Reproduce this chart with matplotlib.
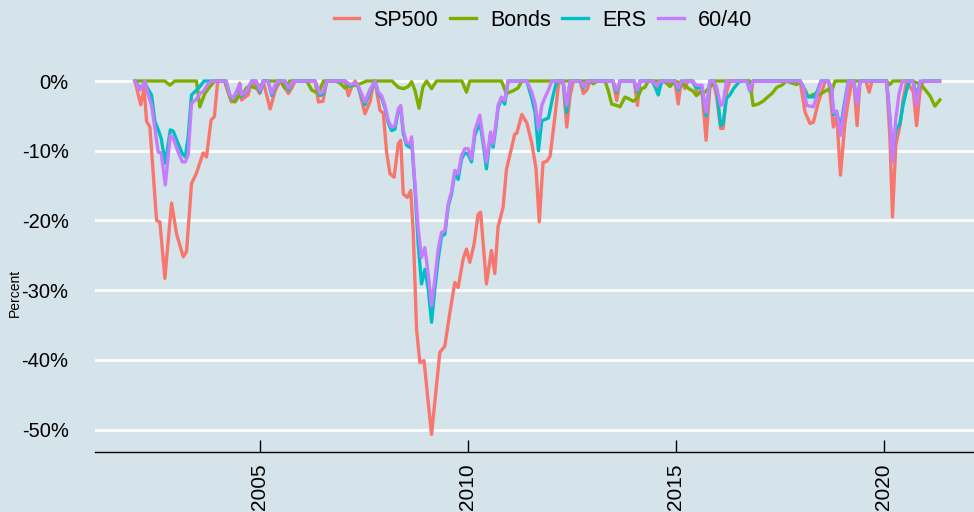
import numpy as np
import matplotlib
matplotlib.use("Agg")
import matplotlib.pyplot as plt
from matplotlib.ticker import FuncFormatter

plt.rcParams['font.family'] = ['Liberation Sans', 'DejaVu Sans']

# drawdowns in percent, x in decimal years (vertices)
sp_x = [2002.00, 2002.14, 2002.22, 2002.28, 2002.36, 2002.52, 2002.60, 2002.72, 2002.88, 2003.00,
        2003.16, 2003.24, 2003.36, 2003.48, 2003.64, 2003.72, 2003.83, 2003.91, 2003.99, 2004.16,
        2004.32, 2004.43, 2004.52, 2004.56, 2004.72, 2004.81, 2004.88, 2005.00, 2005.08, 2005.25,
        2005.37, 2005.49, 2005.69, 2005.77, 2005.85, 2006.33, 2006.41, 2006.52, 2006.61, 2007.05,
        2007.13, 2007.22, 2007.29, 2007.36, 2007.53, 2007.65, 2007.73, 2007.77, 2007.89, 2007.97,
        2008.05, 2008.13, 2008.23, 2008.33, 2008.39, 2008.45, 2008.55, 2008.63, 2008.69, 2008.77,
        2008.85, 2008.95, 2009.05, 2009.13, 2009.25, 2009.33, 2009.45, 2009.57, 2009.69, 2009.77,
        2009.89, 2009.97, 2010.05, 2010.15, 2010.25, 2010.31, 2010.45, 2010.57, 2010.65, 2010.73,
        2010.85, 2010.93, 2011.05, 2011.13, 2011.18, 2011.30, 2011.42, 2011.54, 2011.64, 2011.72,
        2011.81, 2011.90, 2011.98, 2012.10, 2012.18, 2012.22, 2012.29, 2012.38, 2012.46, 2012.54,
        2012.70, 2012.78, 2012.87, 2012.94, 2013.49, 2013.58, 2013.66, 2014.00, 2014.08, 2014.14,
        2014.43, 2014.50, 2014.58, 2014.67, 2014.86, 2014.98, 2015.06, 2015.13, 2015.22, 2015.29,
        2015.42, 2015.54, 2015.63, 2015.73, 2015.82, 2015.89, 2015.98, 2016.08, 2016.14, 2016.22,
        2016.30, 2016.76, 2016.82, 2016.86, 2017.99, 2018.11, 2018.23, 2018.31, 2018.43, 2018.51,
        2018.59, 2018.68, 2018.79, 2018.87, 2018.96, 2019.07, 2019.15, 2019.23, 2019.28, 2019.36,
        2019.43, 2019.57, 2019.65, 2019.72, 2020.07, 2020.15, 2020.21, 2020.29, 2020.39, 2020.47,
        2020.55, 2020.65, 2020.71, 2020.79, 2020.87, 2020.95, 2021.35]
sp_y = [0, -3.4, -1.0, -5.8, -6.6, -20.0, -20.2, -28.3, -17.5, -21.9,
        -25.2, -24.5, -14.7, -13.2, -10.3, -10.9, -5.6, -5.1, 0, 0,
        -3.0, -2.8, -0.3, -2.7, -2.0, 0, -0.6, -1.8, 0, -4.0,
        -1.4, 0, -1.8, -1.0, 0, 0, -3.0, -2.9, 0, 0,
        -2.1, -0.7, 0, -0.6, -4.7, -3.0, -0.4, 0, -4.2, -4.6,
        -10.2, -13.3, -13.8, -9.0, -8.5, -16.2, -16.7, -15.7, -21.7, -35.6,
        -40.4, -40.1, -46.1, -50.7, -43.7, -38.9, -38.0, -33.2, -28.9, -29.6,
        -25.5, -24.1, -26.0, -23.5, -19.1, -18.8, -29.1, -24.3, -27.6, -20.9,
        -18.1, -12.7, -9.7, -7.6, -7.5, -4.8, -6.0, -8.9, -12.5, -20.2,
        -11.7, -11.5, -10.8, -4.9, -0.6, 0, 0, -6.6, -2.1, 0,
        0, -1.8, -1.2, 0, 0, -2.8, 0, 0, -3.5, 0,
        0, -0.8, -1.3, 0, -0.5, 0, -3.3, 0, -1.1, 0,
        0, -1.9, -1.4, -8.5, -0.9, 0, -2.1, -6.8, -6.8, -1.6,
        0, 0, -1.6, 0, 0, -4.5, -6.1, -5.9, -3.0, -1.6,
        0, 0, -6.6, -4.9, -13.5, -5.9, -2.8, 0, 0, -6.4,
        0, 0, -1.6, 0, 0, -8.3, -19.5, -9.2, -6.4, -2.5,
        0, -1.0, -1.5, -6.4, -1.6, 0, 0]

bond_x = [2002.00, 2002.72, 2002.84, 2002.96, 2003.48, 2003.56, 2003.68, 2003.80, 2003.92, 2004.16,
          2004.28, 2004.40, 2004.48, 2004.60, 2004.68, 2004.77, 2004.89, 2005.01, 2005.09, 2005.51,
          2005.60, 2005.72, 2006.13, 2006.25, 2006.41, 2006.53, 2006.83, 2006.93, 2007.05, 2007.17,
          2007.33, 2007.57, 2008.18, 2008.33, 2008.45, 2008.57, 2008.65, 2008.73, 2008.83, 2008.92,
          2009.01, 2009.13, 2009.25, 2009.86, 2009.97, 2010.05, 2010.81, 2010.93, 2011.09, 2011.21,
          2011.30, 2012.94, 2013.02, 2013.11, 2013.30, 2013.38, 2013.46, 2013.58, 2013.66, 2013.78,
          2013.86, 2013.98, 2014.07, 2014.18, 2014.26, 2014.34, 2014.74, 2014.86, 2014.98, 2015.17,
          2015.34, 2015.41, 2015.50, 2015.58, 2015.70, 2015.82, 2015.94, 2016.78, 2016.86, 2016.98,
          2017.10, 2017.19, 2017.31, 2017.43, 2017.55, 2017.66, 2017.79, 2017.91, 2017.99, 2018.11,
          2018.19, 2018.31, 2018.43, 2018.55, 2018.67, 2018.74, 2018.83, 2020.07, 2020.15, 2020.22,
          2020.70, 2020.85, 2020.95, 2021.11, 2021.23, 2021.35]
bond_y = [0, 0, -0.6, 0, 0, -3.7, -1.8, -0.8, 0, 0,
          -2.3, -3.0, -2.3, -1.8, -1.0, -0.7, -1.0, -0.8, 0, 0,
          -1.0, 0, 0, -1.3, -1.8, 0, 0, -0.3, -1.0, -0.7,
          -0.6, 0, 0, -0.9, -1.1, -0.8, -0.1, -1.3, -3.9, -0.9,
          0, -1.1, 0, 0, -1.6, 0, 0, -1.8, -1.4, -1.0,
          0, 0, -0.4, 0, 0, -1.4, -3.3, -3.5, -3.7, -2.3,
          -2.5, -2.9, -2.5, -1.1, -0.9, 0, 0, -0.8, 0, -0.4,
          -1.2, -1.4, -2.1, -1.6, -1.6, -0.9, 0, 0, -3.5, -3.3,
          -2.9, -2.4, -1.8, -0.9, -0.6, 0, -0.3, -0.5, 0, -1.3,
          -2.3, -1.9, -2.0, -1.6, -1.2, -1.6, 0, 0, -0.5, 0,
          0, -0.4, -0.9, -2.1, -3.6, -2.7]

ers_x = [2002.00, 2002.12, 2002.24, 2002.32, 2002.40, 2002.48, 2002.56, 2002.63, 2002.73, 2002.85,
         2002.92, 2003.04, 2003.14, 2003.21, 2003.28, 2003.36, 2003.48, 2003.56, 2003.66, 2004.19,
         2004.28, 2004.36, 2004.44, 2004.52, 2004.56, 2004.67, 2004.81, 2004.91, 2005.01, 2005.09,
         2005.20, 2005.29, 2005.37, 2005.44, 2005.61, 2005.69, 2005.80, 2006.33, 2006.45, 2006.53,
         2006.61, 2007.05, 2007.17, 2007.29, 2007.36, 2007.53, 2007.65, 2007.77, 2007.85, 2007.93,
         2008.01, 2008.09, 2008.17, 2008.25, 2008.33, 2008.39, 2008.45, 2008.53, 2008.61, 2008.65,
         2008.73, 2008.81, 2008.89, 2008.97, 2009.05, 2009.13, 2009.21, 2009.29, 2009.37, 2009.45,
         2009.53, 2009.61, 2009.69, 2009.77, 2009.85, 2009.93, 2010.01, 2010.09, 2010.17, 2010.29,
         2010.37, 2010.45, 2010.55, 2010.61, 2010.68, 2010.73, 2010.81, 2010.89, 2010.97, 2011.42,
         2011.54, 2011.62, 2011.70, 2011.78, 2011.86, 2011.94, 2012.05, 2012.14, 2012.29, 2012.38,
         2012.46, 2012.70, 2012.78, 2012.87, 2013.49, 2013.58, 2013.66, 2014.00, 2014.08, 2014.14,
         2014.45, 2014.58, 2014.66, 2014.98, 2015.06, 2015.15, 2015.39, 2015.50, 2015.63, 2015.73,
         2015.82, 2015.91, 2015.98, 2016.08, 2016.14, 2016.22, 2016.30, 2016.40, 2016.54, 2016.71,
         2016.78, 2016.86, 2017.99, 2018.06, 2018.15, 2018.31, 2018.40, 2018.49, 2018.66, 2018.75,
         2018.79, 2018.87, 2018.96, 2019.04, 2019.15, 2019.28, 2019.36, 2019.43, 2020.07, 2020.15,
         2020.21, 2020.29, 2020.39, 2020.47, 2020.55, 2020.62, 2020.70, 2020.79, 2020.87, 2020.95,
         2021.33]
ers_y = [0, -1.0, -0.3, -1.2, -2.0, -5.8, -7.0, -8.2, -11.8, -7.0,
         -7.2, -9.0, -10.4, -10.9, -8.0, -2.0, -1.3, -0.8, 0, 0,
         -2.0, -2.6, -1.6, -0.5, -2.2, -1.6, 0, 0, -1.6, 0,
         0, -2.1, -0.8, 0, 0, -1.3, 0, 0, -2.1, -1.8,
         0, 0, -0.7, -0.3, -0.8, -3.4, -1.5, 0, -1.8, -2.4,
         -3.8, -6.0, -7.1, -6.9, -4.3, -3.8, -7.5, -9.2, -9.5, -8.5,
         -15.2, -23.5, -29.1, -27.0, -29.8, -34.6, -29.8, -25.5, -22.2, -22.0,
         -18.0, -16.2, -13.2, -14.1, -11.2, -10.3, -10.5, -11.6, -7.8, -5.9,
         -8.9, -12.6, -7.5, -9.5, -6.5, -3.8, -2.6, -3.3, 0, 0,
         -2.5, -4.5, -10.0, -5.7, -5.5, -5.3, -2.1, 0, 0, -4.5,
         0, 0, -1.0, 0, 0, -1.6, 0, 0, -1.6, 0,
         0, -2.0, 0, 0, -1.3, 0, 0, -1.0, -1.0, -5.0,
         0, 0, -1.0, -6.4, -6.0, -2.5, -2.0, -1.0, 0, 0,
         -1.4, 0, 0, -0.8, -2.2, -2.3, -1.5, 0, 0, -1.2,
         -4.8, -4.5, -6.8, -3.7, 0, 0, -3.3, 0, 0, -5.4,
         -10.7, -7.1, -6.1, -3.3, -1.3, 0, 0, -2.1, -0.3, 0,
         0]

p6040_x = [2002.00, 2002.12, 2002.24, 2002.32, 2002.40, 2002.48, 2002.56, 2002.63, 2002.73, 2002.85,
           2002.92, 2003.04, 2003.14, 2003.21, 2003.28, 2003.36, 2003.48, 2003.56, 2003.66, 2003.76,
           2003.85, 2004.19, 2004.28, 2004.36, 2004.44, 2004.52, 2004.56, 2004.67, 2004.81, 2004.91,
           2005.01, 2005.09, 2005.20, 2005.29, 2005.37, 2005.44, 2005.61, 2005.69, 2005.80, 2006.33,
           2006.45, 2006.53, 2006.61, 2007.05, 2007.17, 2007.29, 2007.36, 2007.53, 2007.65, 2007.77,
           2007.85, 2007.93, 2008.01, 2008.09, 2008.17, 2008.25, 2008.33, 2008.39, 2008.45, 2008.53,
           2008.61, 2008.65, 2008.73, 2008.81, 2008.89, 2008.97, 2009.05, 2009.13, 2009.21, 2009.29,
           2009.37, 2009.45, 2009.53, 2009.61, 2009.69, 2009.77, 2009.85, 2009.93, 2010.01, 2010.09,
           2010.17, 2010.29, 2010.37, 2010.45, 2010.55, 2010.61, 2010.68, 2010.73, 2010.81, 2010.89,
           2010.97, 2011.42, 2011.54, 2011.62, 2011.70, 2011.78, 2011.86, 2011.94, 2012.02, 2012.29,
           2012.38, 2012.46, 2012.70, 2012.78, 2012.87, 2013.49, 2013.58, 2013.66, 2014.00, 2014.08,
           2014.14, 2014.45, 2014.54, 2014.62, 2014.98, 2015.06, 2015.15, 2015.39, 2015.50, 2015.63,
           2015.73, 2015.82, 2015.91, 2015.98, 2016.08, 2016.14, 2016.22, 2016.71, 2016.78, 2016.86,
           2017.99, 2018.06, 2018.15, 2018.31, 2018.40, 2018.49, 2018.66, 2018.75, 2018.79, 2018.87,
           2018.96, 2019.04, 2019.15, 2019.28, 2019.36, 2019.43, 2020.07, 2020.15, 2020.21, 2020.29,
           2020.37, 2020.45, 2020.70, 2020.79, 2020.87, 2021.33]
p6040_y = [0, -1.3, 0, -2.0, -3.5, -6.8, -10.2, -10.3, -14.9, -7.8,
           -8.2, -10.2, -11.6, -11.6, -10.6, -3.2, -2.6, -1.8, -1.4, -0.3,
           0, 0, -2.0, -2.5, -1.5, -0.5, -2.0, -1.5, 0, 0,
           -1.3, 0, 0, -1.8, -0.5, 0, 0, -1.0, 0, 0,
           -1.8, -1.5, 0, 0, -0.5, -0.3, -0.6, -3.0, -1.2, 0,
           -1.6, -2.1, -3.5, -5.7, -6.6, -6.4, -4.0, -3.5, -7.1, -8.8,
           -9.0, -8.0, -14.5, -21.2, -25.3, -23.9, -27.7, -32.2, -28.4, -24.1,
           -21.7, -21.5, -17.6, -15.9, -12.8, -13.3, -10.7, -9.7, -9.7, -11.2,
           -7.1, -4.9, -8.3, -11.6, -7.3, -9.0, -6.0, -3.5, -2.3, -2.8,
           0, 0, -1.6, -3.3, -6.9, -3.5, -2.3, -1.3, 0, 0,
           -3.5, 0, 0, -0.8, 0, 0, -1.3, 0, 0, -1.3,
           0, 0, -0.7, 0, 0, -1.0, 0, 0, -0.6, -0.6,
           -4.5, 0, 0, -0.9, -3.5, -3.2, 0, 0, -1.4, 0,
           0, -0.7, -3.5, -3.7, -2.0, 0, 0, -1.0, -4.5, -4.3,
           -7.8, -4.4, 0, 0, -3.3, 0, 0, -5.4, -11.6, -5.4,
           -1.8, 0, 0, -3.5, 0, 0]

series = [("SP500", sp_x, sp_y, "#F8766D"),
          ("Bonds", bond_x, bond_y, "#7CAE00"),
          ("ERS", ers_x, ers_y, "#00BFC4"),
          ("60/40", p6040_x, p6040_y, "#C77CFF")]

bg = "#D5E4EB"
fig = plt.figure(figsize=(9.74, 5.12), dpi=100, facecolor=bg)
ax = fig.add_axes([95/974, 1 - 452/512, 1 - 95/974, (452 - 63.6)/512])
ax.set_facecolor(bg)

for name, xs, ys, col in series:
    ax.plot(xs, ys, color=col, lw=2.4, label=name, solid_joinstyle="round")

ax.set_xlim(2001.04, 2022.17)
ax.set_ylim(-53.2, 2.5)
ax.set_xticks([2005, 2010, 2015, 2020])
ax.set_yticks([0, -10, -20, -30, -40, -50])
ax.yaxis.set_major_formatter(FuncFormatter(lambda v, p: f"{int(v)}%"))
ax.grid(axis="y", color="white", lw=2)
ax.set_axisbelow(True)
for s in ["left", "right", "top"]:
    ax.spines[s].set_visible(False)
ax.spines["bottom"].set_color("black")
ax.spines["bottom"].set_linewidth(1)
ax.tick_params(axis="y", length=0, pad=19, labelsize=14.5)
ax.tick_params(axis="x", direction="in", length=9, width=1, color="black",
               labelsize=15, labelrotation=90, pad=8)

fig.text(15/974, 1 - 293/512, "Percent", rotation=90, fontsize=10,
         ha="center", va="center")

fig.legend(loc="center", bbox_to_anchor=(543/974, 1 - 20/512), ncol=4,
           frameon=False, fontsize=15.5, handlelength=1.2, handletextpad=0.65,
           columnspacing=0.55)

fig.savefig("out.png", dpi=100, facecolor=bg)
